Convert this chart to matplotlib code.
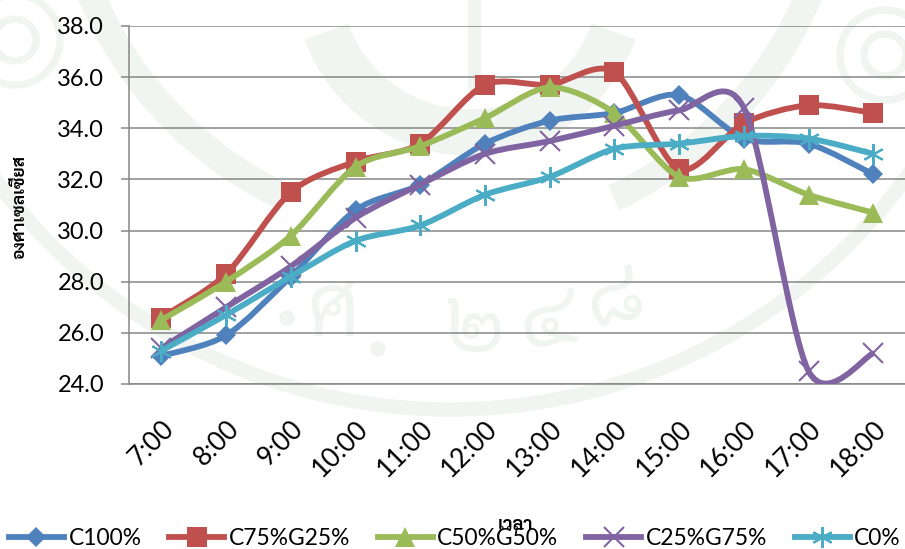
import matplotlib

matplotlib.use("Agg")

import matplotlib.pyplot as plt
import numpy as np
from matplotlib.lines import Line2D
from matplotlib.patches import Circle, PathPatch, Rectangle, Wedge
from matplotlib.path import Path

HOURS = ["7:00", "8:00", "9:00", "10:00", "11:00", "12:00",
         "13:00", "14:00", "15:00", "16:00", "17:00", "18:00"]
C100 = [25.1, 25.9, 28.2, 30.8, 31.8, 33.4, 34.3, 34.6, 35.3, 33.6, 33.4, 32.2]
C75G25 = [26.6, 28.3, 31.5, 32.7, 33.4, 35.7, 35.7, 36.2, 32.4, 34.2, 34.9, 34.6]
C50G50 = [26.5, 28.0, 29.8, 32.5, 33.3, 34.4, 35.6, 34.6, 32.1, 32.4, 31.4, 30.7]
C25G75 = [25.4, 27.0, 28.6, 30.5, 31.8, 33.0, 33.5, 34.1, 34.7, 34.8, 24.5, 25.2]
C0 = [25.3, 26.7, 28.2, 29.6, 30.2, 31.4, 32.1, 33.2, 33.4, 33.7, 33.6, 33.0]

MARKER_ASTERISK = (6, 2, 0)
SERIES = [
    ("C100%", C100, "#4f81bd", "D", 10),
    ("C75%G25%", C75G25, "#c0504d", "s", 14),
    ("C50%G50%", C50G50, "#9bbb59", "^", 14),
    ("C25%G75%", C25G75, "#8064a2", "x", 14),
    ("C0%", C0, "#4bacc6", MARKER_ASTERISK, 15),
]

THAI_FONTS = ["Sarabun", "Anuphan", "DejaVu Sans"]
PALE = "#f1f5f2"


def smooth_path(xs, ys):
    # same kind of curve office charts use for "smoothed line"
    pts = np.column_stack([xs, ys])
    verts = [pts[0]]
    codes = [Path.MOVETO]
    n = len(pts)
    for i in range(n - 1):
        prev = pts[max(i - 1, 0)]
        nxt = pts[min(i + 2, n - 1)]
        verts += [pts[i] + (pts[i + 1] - prev) / 7, pts[i + 1] - (nxt - pts[i]) / 7, pts[i + 1]]
        codes += [Path.CURVE4] * 3
    return Path(verts, codes)


def draw_watermark(fig):
    # faint seal behind the chart, in pixel coordinates
    bg = fig.add_axes([0, 0, 1, 1], zorder=0)
    bg.set_xlim(0, 905)
    bg.set_ylim(549, 0)
    bg.axis("off")
    bg.add_patch(Wedge((450, -155), 571, 0, 180, width=13, color=PALE))
    bg.add_patch(Wedge((450, -155), 402, 115, 165, width=26, color=PALE))
    bg.add_patch(Wedge((450, -155), 402, 15, 65, width=26, color=PALE))
    bg.add_patch(Wedge((470, -20), 175, 20, 160, width=45, color=PALE))
    bg.add_patch(Rectangle((468, 0), 12, 90, color=PALE))
    for cx, cy in [(15, 40), (885, 55)]:
        bg.add_patch(Wedge((cx, cy), 24, 0, 360, width=6, color=PALE))
        bg.add_patch(Wedge((cx, cy), 48, 0, 360, width=6, color=PALE))
    bg.add_patch(Circle((287, 318), 7, color=PALE))
    bg.add_patch(Circle((378, 349), 7, color=PALE))
    for label, px, py, rot in [("ศ", 333, 315, 0), ("๒", 475, 330, 0), ("๔", 548, 322, 8), ("๘", 615, 300, 15)]:
        bg.text(px, py, label, color=PALE, fontsize=62, family=THAI_FONTS, ha="center", va="center", rotation=rot)


plt.rcParams["font.family"] = ["Lato", "Noto Sans", "DejaVu Sans"]

fig = plt.figure(figsize=(9.05, 5.49), dpi=100)
draw_watermark(fig)

ax = fig.add_axes([129 / 905, 1 - 384 / 549, (905 - 129) / 905, (384 - 26) / 549], zorder=1)
ax.patch.set_alpha(0)

x = np.arange(len(HOURS))
for name, values, color, marker, size in SERIES:
    ax.add_patch(PathPatch(smooth_path(x, values), fill=False, edgecolor=color, linewidth=4.2, zorder=3))
    mew = 1.5 if marker in ("x", MARKER_ASTERISK) else 0
    ax.plot(x, values, ls="none", marker=marker, ms=size, mew=mew, color=color, mec=color, zorder=3, clip_on=False)

ax.set_xlim(-0.5, 11.49)
ax.set_ylim(24, 38)
ax.set_yticks(np.arange(24, 39, 2))
ax.set_yticklabels([f"{v:.1f}" for v in np.arange(24, 39, 2)], fontsize=17)
ax.set_xticks(x)
ax.set_xticklabels(HOURS, fontsize=19, rotation=45, ha="right", rotation_mode="anchor")
ax.tick_params(axis="x", length=0, pad=23)
ax.tick_params(axis="y", length=5.8, width=1.1, color="#868686", pad=12)
ax.grid(axis="y", color="#868686", linewidth=1.1)
ax.set_axisbelow(True)
for side in ("top", "right"):
    ax.spines[side].set_visible(False)
for side in ("left", "bottom"):
    ax.spines[side].set_color("#868686")
    ax.spines[side].set_linewidth(1.1)

fig.text(20 / 905, 1 - 207 / 549, "องศาเซลเซียส", rotation=90, ha="center", va="center",
         fontsize=12.5, fontweight="bold", family=THAI_FONTS)
fig.text(515 / 905, 1 - 525 / 549, "เวลา", ha="center", va="center",
         fontsize=13, fontweight="bold", family=THAI_FONTS)

handles = [Line2D([], [], color=c, lw=4.2, marker=m, ms=s, mew=1.5 if m in ("x", MARKER_ASTERISK) else 0, mec=c)
           for _, _, c, m, s in SERIES]
fig.legend(handles, [s[0] for s in SERIES], ncol=5, loc="lower left", bbox_to_anchor=(9 / 905, 0 / 549),
           frameon=False, fontsize=16.4, handlelength=2.41, handletextpad=0.2, columnspacing=1.22,
           borderaxespad=0, borderpad=0)

fig.savefig("out.png", dpi=100)
